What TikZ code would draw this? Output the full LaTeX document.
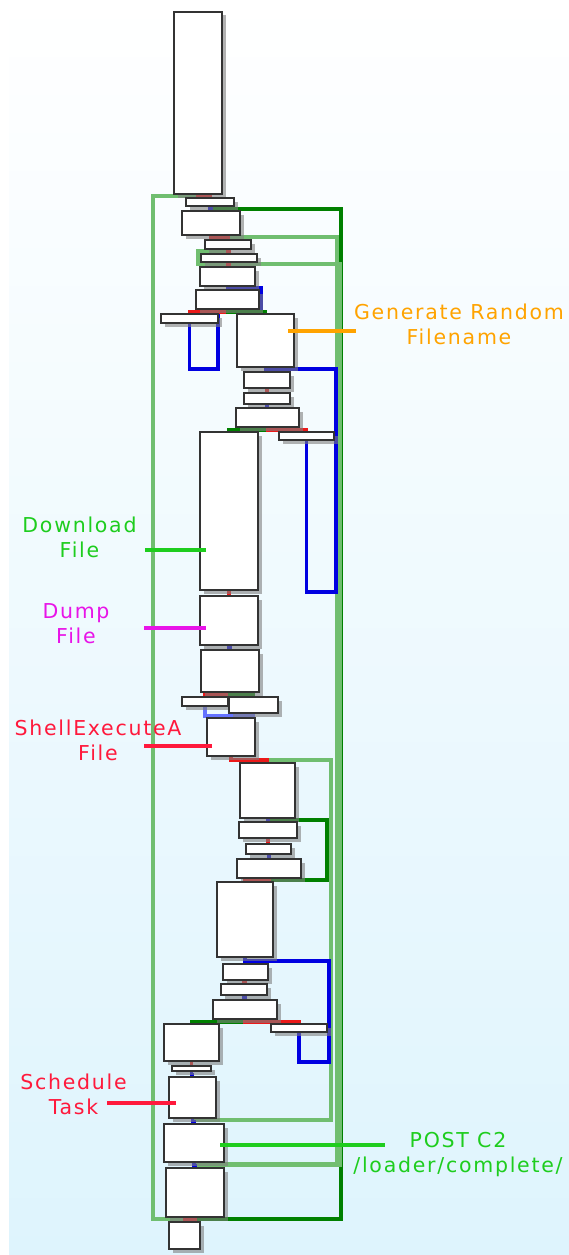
\documentclass[tikz,border=0pt]{standalone}
\usepackage{fontspec}
\newfontfamily\annfont[LetterSpace=8.5]{DejaVu Sans}
\usetikzlibrary{shadows,calc}
\pgfdeclarelayer{bg}
\pgfdeclarelayer{edges}
\pgfsetlayers{bg,edges,main}
\definecolor{idagreen}{RGB}{0,128,0}
\definecolor{idalgreen}{RGB}{112,190,112}
\definecolor{idablue}{RGB}{0,0,225}
\definecolor{idalblue}{RGB}{100,115,255}
\definecolor{idared}{RGB}{235,25,25}
\definecolor{lblorange}{RGB}{255,163,0}
\definecolor{lblgreen}{RGB}{30,205,30}
\definecolor{lblmagenta}{RGB}{232,20,232}
\definecolor{lblred}{RGB}{255,25,60}
\definecolor{bgbottom}{RGB}{222,244,253}
\begin{document}
\begin{tikzpicture}[x=1pt,y=-1pt,
		blk/.style={draw=black!80, line width=2.6pt, fill=white, inner sep=0pt, outer sep=0pt,
			drop shadow={shadow xshift=3.5pt, shadow yshift=-3.5pt, opacity=0.6}},
		gedge/.style={draw=idagreen, line width=3.4pt},
		lgedge/.style={draw=idalgreen, line width=3.4pt},
		bedge/.style={draw=idablue, line width=3.4pt},
		lbedge/.style={draw=idalblue, line width=3.4pt},
		redge/.style={draw=idared, line width=3.4pt},
		lbl/.style={font=\annfont\fontsize{20.5}{25}\selectfont, align=center, inner sep=0pt},
		annline/.style={line width=3.4pt}]
	\useasboundingbox (0,0) rectangle (569,1255);
	\begin{pgfonlayer}{bg}
		\fill[white] (0,0) rectangle (569,1255);
		\shade[top color=white, bottom color=bgbottom] (9,0) rectangle (569,1255);
	\end{pgfonlayer}
	%---------------- BLOCKS ----------------
	\node[blk, minimum width=48, minimum height=182] (b1) at (198,103) {};
	\node[blk, minimum width=48, minimum height=8] (b2) at (210,202) {};
	\node[blk, minimum width=58, minimum height=24] (b3) at (211,223) {};
	\node[blk, minimum width=46, minimum height=9] (b4) at (228,244.5) {};
	\node[blk, minimum width=56, minimum height=8] (b5) at (229,258) {};
	\node[blk, minimum width=55, minimum height=19] (b6) at (227.5,276.5) {};
	\node[blk, minimum width=63, minimum height=19] (b7) at (227.5,299.5) {};
	\node[blk, minimum width=57, minimum height=9] (b8) at (189.5,318.5) {};
	\node[blk, minimum width=57, minimum height=53] (b9) at (265.5,340.5) {};
	\node[blk, minimum width=46, minimum height=16] (b10) at (267,380) {};
	\node[blk, minimum width=46, minimum height=11] (b11) at (267,398.5) {};
	\node[blk, minimum width=63, minimum height=19] (b12) at (267.5,417.5) {};
	\node[blk, minimum width=55, minimum height=8] (b13) at (306.5,436) {};
	\node[blk, minimum width=58, minimum height=158] (b14) at (229,511) {};
	\node[blk, minimum width=58, minimum height=49] (b15) at (229,620.5) {};
	\node[blk, minimum width=58, minimum height=42] (b16) at (230,671) {};
	\node[blk, minimum width=46, minimum height=9] (b17) at (205,701.5) {};
	\node[blk, minimum width=49, minimum height=16] (b18) at (253.5,705) {};
	\node[blk, minimum width=48, minimum height=38] (b19) at (231,737) {};
	\node[blk, minimum width=55, minimum height=55] (b20) at (267.5,790.5) {};
	\node[blk, minimum width=58, minimum height=16] (b21) at (268,830) {};
	\node[blk, minimum width=45, minimum height=10] (b22) at (268.5,849) {};
	\node[blk, minimum width=64, minimum height=19] (b23) at (269,868.5) {};
	\node[blk, minimum width=56, minimum height=75] (b24) at (245,919.5) {};
	\node[blk, minimum width=45, minimum height=16] (b25) at (245.5,972) {};
	\node[blk, minimum width=46, minimum height=11] (b26) at (244,989.5) {};
	\node[blk, minimum width=64, minimum height=19] (b27) at (245,1009.5) {};
	\node[blk, minimum width=55, minimum height=37] (b28) at (191.5,1042.5) {};
	\node[blk, minimum width=56, minimum height=8] (b29) at (299,1028) {};
	\node[blk, minimum width=39, minimum height=5] (b30) at (191.5,1068.5) {};
	\node[blk, minimum width=47, minimum height=41] (b31) at (192.5,1097.5) {};
	\node[blk, minimum width=60, minimum height=38] (b32) at (194,1143) {};
	\node[blk, minimum width=58, minimum height=49] (b33) at (195,1192.5) {};
	\node[blk, minimum width=31, minimum height=27] (b34) at (184.5,1235.5) {};
	\begin{pgfonlayer}{edges}
		%---------------- LOOPS ----------------
		\draw[lgedge] (b1.south) |- (153,196) |- ($(b34.north)+(0,-3)$) -- (b34.north);
		\draw[gedge] (b2.south) |- (341,209) |- ($(b34.north)+(4,-3)$) -- ++(0,3);
		\draw[lgedge] (b3.south) |- (337,237) |- ($(b33.north)+(0,-4)$) -- (b33.north);
		\draw[lgedge] (b32.south) |- (340,1165) |- (198,264) |- ($(b5.north)+(0,-3)$) -- (b5.north);
		\draw[bedge] (b8.south) |- (218,369) |- (261,312) |- ($(b7.north)+(0,-2)$) -- (b7.north);
		\draw[bedge] (b13.south) |- (336,592) |- ($(b10.north)+(0,-3)$) -- (b10.north);
		\draw[lbedge] (b17.south) |- ($(b19.north)+(0,-2)$) -- (b19.north);
		\draw[lbedge] (b18.south) |- ($(b19.north)+(0,-2)$);
		\draw[gedge] (b23.south) |- (327,880) |- ($(b21.north)+(0,-2)$) -- (b21.north);
		\draw[lgedge] (b31.south) |- (331,1120) |- ($(b20.north)+(0,-3)$) -- (b20.north);
		\draw[bedge] (b29.south) |- (329,1062) |- ($(b25.north)+(0,-3)$) -- (b25.north);
		%---------------- SHORT EDGES ----------------
		\draw[redge] (b1.south) |- ($(b2.north)+(0,-2)$) -- (b2.north);
		\draw[bedge] (b2.south) |- ($(b3.north)+(0,-2)$) -- (b3.north);
		\draw[redge] (b3.south) |- ($(b4.north)+(0,-2)$) -- (b4.north);
		\draw[redge] (b4.south) |- ($(b5.north)+(0,-2)$) -- (b5.north);
		\draw[redge] (b5.south) |- ($(b6.north)+(0,-2)$) -- (b6.north);
		\draw[bedge] (b6.south) -- (b7.north);
		\draw[redge] (b7.south) |- ($(b8.north)+(0,-2)$) -- (b8.north);
		\draw[gedge] (b7.south) |- ($(b9.north)+(0,-2)$) -- (b9.north);
		\draw[bedge] (b9.south) |- ($(b10.north)+(0,-2)$) -- (b10.north);
		\draw[redge] (b10.south) -- (b11.north);
		\draw[bedge] (b11.south) |- ($(b12.north)+(0,-2)$) -- (b12.north);
		\draw[gedge] (b12.south) |- ($(b14.north)+(0,-2)$) -- (b14.north);
		\draw[redge] (b12.south) |- ($(b13.north)+(0,-2)$) -- (b13.north);
		\draw[redge] (b14.south) -- (b15.north);
		\draw[bedge] (b15.south) |- ($(b16.north)+(0,-2)$) -- (b16.north);
		\draw[redge] (b16.south) |- ($(b17.north)+(0,-2)$) -- (b17.north);
		\draw[gedge] (b16.south) |- ($(b18.north)+(0,-2)$) -- (b18.north);
		\draw[redge] (b19.south) |- ($(b20.north)+(0,-3)$) -- (b20.north);
		\draw[bedge] (b20.south) |- ($(b21.north)+(0,-2)$) -- (b21.north);
		\draw[redge] (b21.south) |- ($(b22.north)+(0,-2)$) -- (b22.north);
		\draw[bedge] (b22.south) |- ($(b23.north)+(0,-2)$) -- (b23.north);
		\draw[redge] (b23.south) |- ($(b24.north)+(0,-2)$) -- (b24.north);
		\draw[bedge] (b24.south) |- ($(b25.north)+(0,-2)$) -- (b25.north);
		\draw[redge] (b25.south) |- ($(b26.north)+(0,-2)$) -- (b26.north);
		\draw[bedge] (b26.south) |- ($(b27.north)+(0,-2)$) -- (b27.north);
		\draw[gedge] (b27.south) |- ($(b28.north)+(0,-2)$) -- (b28.north);
		\draw[redge] (b27.south) |- ($(b29.north)+(0,-2)$) -- (b29.north);
		\draw[redge] (b28.south) -- (b30.north);
		\draw[bedge] (b30.south) |- ($(b31.north)+(0,-2)$) -- (b31.north);
		\draw[bedge] (b31.south) |- ($(b32.north)+(0,-2)$) -- (b32.north);
		\draw[bedge] (b32.south) |- ($(b33.north)+(0,-2)$) -- (b33.north);
		\draw[redge] (b33.south) |- ($(b34.north)+(0,-2)$) -- (b34.north);
	\end{pgfonlayer}
	%---------------- LABELS ----------------
	\node[lbl, text=lblorange] (genlbl) at (459,324.4) {Generate Random\\Filename};
	\draw[annline, lblorange] (b9.east) ++(-6,-9.5) -- ++(68,0);
	\node[lbl, text=lblgreen] (dllbl) at (79.5,537) {Download\\File};
	\draw[annline, lblgreen] (b14.west) ++(6,39) -- ++(-61,0);
	\node[lbl, text=lblmagenta] (dumplbl) at (76,623.2) {Dump\\File};
	\draw[annline, lblmagenta] (b15.west) ++(6,7.5) -- ++(-62,0);
	\node[lbl, text=lblred] (execlbl) at (98,740.4) {ShellExecuteA\\File};
	\draw[annline, lblred] (b19.west) ++(5,9) -- ++(-68,0);
	\node[lbl, text=lblred] (tasklbl) at (73.5,1093.9) {Schedule\\Task};
	\draw[annline, lblred] (b31.west) ++(7,5.5) -- ++(-69,0);
	\node[lbl, text=lblgreen] (postlbl) at (458,1154.9) {POST C2\\/loader/complete/};
	\draw[annline, lblgreen] (b32.east) ++(-4,2) -- ++(165,0);
\end{tikzpicture}
\end{document}
